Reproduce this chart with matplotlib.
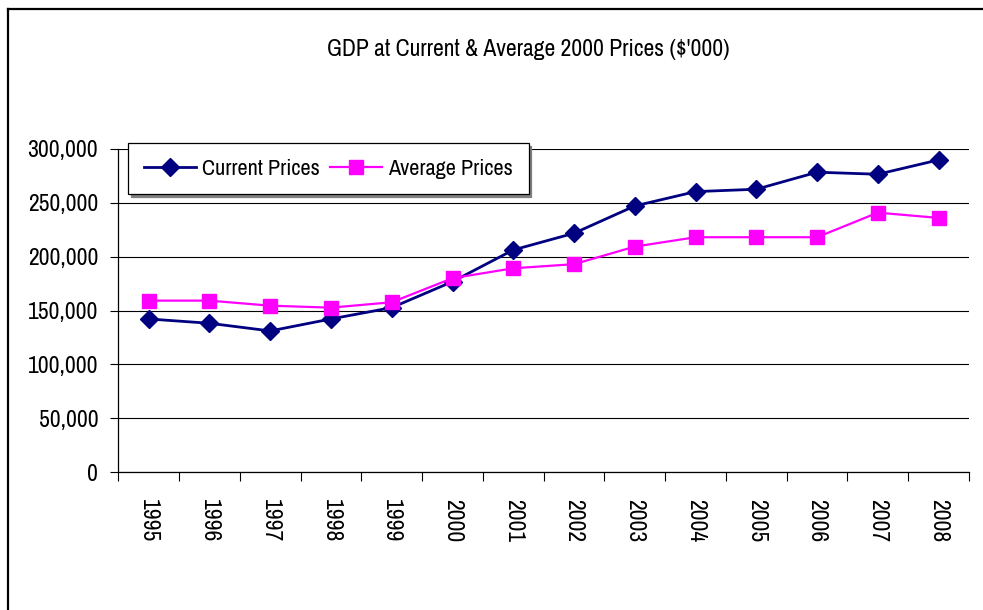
import numpy as np
import matplotlib
matplotlib.use("Agg")
import matplotlib.pyplot as plt
import matplotlib.font_manager as fm
from matplotlib.lines import Line2D
from matplotlib.ticker import FuncFormatter

# data
years = ["1995", "1996", "1997", "1998", "1999", "2000", "2001",
         "2002", "2003", "2004", "2005", "2006", "2007", "2008"]
current_prices = [142200, 138200, 131100, 142200, 152700, 176800, 206200,
                  221700, 247000, 260300, 262500, 278300, 276400, 289700]
average_prices = [159200, 159200, 154500, 152700, 157700, 180000, 189200,
                  193000, 209300, 218000, 218000, 218000, 240800, 235900]

# the original uses a narrow face; pick whatever condensed font exists
installed = [(f.name, str(f.stretch)) for f in fm.fontManager.ttflist]
narrow_names = [n for n, s in installed if "Narrow" in n or "Condensed" in n]
cond_dejavu = any(n == "DejaVu Sans" and s in ("condensed", "semi-condensed", "500", "400")
                  and s != "normal" for n, s in installed)
fs = 16.5
if narrow_names:
    plt.rcParams["font.family"] = [narrow_names[0], "DejaVu Sans"]
    fs = 17
elif cond_dejavu:
    plt.rcParams["font.family"] = ["DejaVu Sans"]
    plt.rcParams["font.stretch"] = "condensed"
    fs = 15
else:
    plt.rcParams["font.family"] = ["Liberation Sans", "DejaVu Sans"]
    fs = 14.5
leg_fs = fs * 16 / 17

W, H = 983, 610
fig = plt.figure(figsize=(W / 100, H / 100), dpi=100)
ax = fig.add_axes([118.3 / W, 1 - 472.3 / H, (969 - 118.3) / W, (472.3 - 148.8) / H])

xpos = np.arange(len(years))
ax.plot(xpos, current_prices, color="#000080", lw=2.0, marker="D", ms=9.5,
        mec="#000080", mfc="#000080", label="Current Prices", zorder=3)
ax.plot(xpos, average_prices, color="#FF00FF", lw=1.6, marker="s", ms=9.5,
        mec="#FF00FF", mfc="#FF00FF", label="Average Prices", zorder=4)

ax.set_xlim(-0.5, len(years) - 0.5)
ax.set_ylim(0, 300000)
ax.set_yticks(np.arange(0, 300001, 50000))
ax.yaxis.set_major_formatter(FuncFormatter(lambda v, p: f"{int(v):,}"))
ax.grid(axis="y", color="black", lw=0.8)
ax.set_axisbelow(True)

ax.set_xticks(xpos)
ax.set_xticklabels(years, rotation=-90, va="top", ha="center")
ax.set_xticks(np.arange(-0.5, len(years)), minor=True)
ax.tick_params(axis="x", which="major", length=0, pad=19, labelsize=fs)
ax.tick_params(axis="x", which="minor", length=6.5, width=0.8, direction="out")
ax.tick_params(axis="y", length=6, width=0.8, pad=8.5, labelsize=fs)

for s in ["top", "right"]:
    ax.spines[s].set_visible(False)
for s in ["left", "bottom"]:
    ax.spines[s].set_linewidth(0.9)

fig.text(528 / W, 1 - 49 / H, "GDP at Current & Average 2000 Prices ($'000)",
         ha="center", va="center", fontsize=fs)

leg = ax.legend(loc="upper left", bbox_to_anchor=(128 / W, 1 - 143 / H),
                bbox_transform=fig.transFigure, ncol=2, fontsize=leg_fs,
                frameon=True, fancybox=False, edgecolor="black",
                handlelength=2.35, handletextpad=0.28, columnspacing=0.45,
                borderpad=0.7, borderaxespad=0,
                shadow={"color": "0.5", "alpha": 1})
leg.get_frame().set_linewidth(0.9)

# outer chart frame (left and top edges visible)
fig.add_artist(Line2D([7.5 / W, 1.0], [1 - 9 / H, 1 - 9 / H], color="black", lw=1.6,
                      transform=fig.transFigure))
fig.add_artist(Line2D([7.5 / W, 7.5 / W], [0, 1 - 9 / H], color="black", lw=1.6,
                      transform=fig.transFigure))

fig.savefig("out.png", dpi=100)
